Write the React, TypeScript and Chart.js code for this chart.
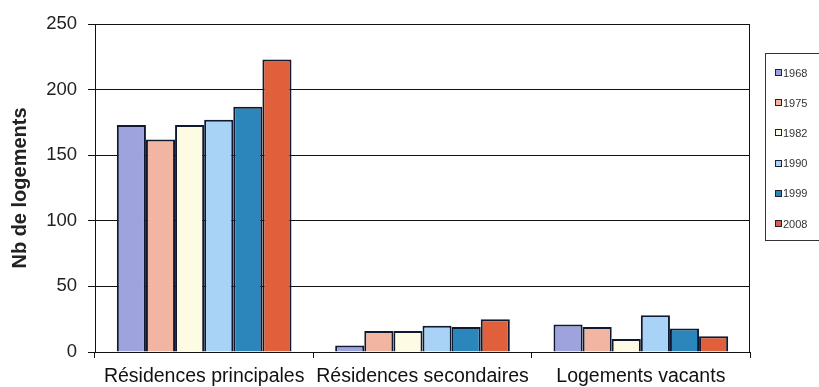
import React, { useEffect, useRef } from "react";
import { Chart, registerables } from "chart.js";

Chart.register(...registerables);

const categories = ["Résidences principales", "Résidences secondaires", "Logements vacants"];
const years = ["1968", "1975", "1982", "1990", "1999", "2008"];
const v1968 = [173, 5, 21];
const v1975 = [162, 16, 19];
const v1982 = [173, 16, 10];
const v1990 = [177, 20, 28];
const v1999 = [187, 19, 18];
const v2008 = [223, 25, 12];
const seriesValues = [v1968, v1975, v1982, v1990, v1999, v2008];
const colors = ["#9ea3de", "#f2b5a1", "#fdfbe4", "#a8d3f6", "#2a86bb", "#e1603c"];
const yTicks = [0, 50, 100, 150, 200, 250];

const borderPlugin = {
  id: "areaBorder",
  afterDraw(chart: any) {
    const { ctx, chartArea } = chart;
    ctx.save();
    ctx.strokeStyle = "#111";
    ctx.lineWidth = 1;
    ctx.beginPath();
    ctx.moveTo(chartArea.left, chartArea.top + 0.5);
    ctx.lineTo(chartArea.right - 0.5, chartArea.top + 0.5);
    ctx.lineTo(chartArea.right - 0.5, chartArea.bottom);
    ctx.stroke();
    ctx.restore();
  },
};

export default function App() {
  const ref = useRef<HTMLCanvasElement>(null);
  useEffect(() => {
    if (!ref.current) return;
    const chart = new Chart(ref.current, {
      type: "bar",
      data: {
        labels: categories,
        datasets: years.map((y, i) => ({
          label: y,
          data: seriesValues[i],
          backgroundColor: colors[i],
          borderColor: "#0f1a30",
          borderWidth: 2,
          barPercentage: 1,
          categoryPercentage: 0.8,
        })),
      },
      options: {
        animation: false,
        responsive: false,
        layout: { padding: { top: 24, right: 69, bottom: 0, left: 0 } },
        plugins: { legend: { display: false }, tooltip: { enabled: false } },
        scales: {
          x: {
            afterFit: (s: any) => { s.height = 35; },
            grid: { display: true, drawOnChartArea: false, drawTicks: true, tickLength: 6, offset: true, color: "#111" },
            border: { display: true, color: "#111", width: 1 },
            ticks: { color: "#111", font: { family: "Liberation Sans, Arial", size: 19.5 }, maxRotation: 0, autoSkip: false, padding: 7 },
          },
          y: {
            min: 0,
            max: 250,
            afterFit: (s: any) => { s.width = 95; },
            afterBuildTicks: (s: any) => { s.ticks = yTicks.map((v) => ({ value: v })); },
            grid: { color: "#111", lineWidth: 1, tickLength: 7, drawTicks: true },
            border: { display: true, color: "#111", width: 1 },
            ticks: { color: "#222", font: { family: "Liberation Sans, Arial", size: 18.5 }, padding: 11 },
            title: {
              display: true,
              text: "Nb de logements",
              color: "#222",
              font: { family: "Liberation Sans, Arial", size: 20, weight: "bold" },
              padding: { top: 8, bottom: 0 },
            },
          },
        },
      },
      plugins: [borderPlugin],
    } as any);
    return () => chart.destroy();
  }, []);

  return (
    <div style={{ position: "fixed", left: 0, top: 0, width: 819, height: 387, background: "#fff" }}>
      <canvas ref={ref} width={819} height={387} style={{ position: "absolute", left: 0, top: 0 }} />
      <div
        style={{
          position: "absolute",
          left: 765,
          top: 53,
          width: 60,
          height: 188,
          border: "1px solid #333",
          boxSizing: "border-box",
          fontFamily: "Liberation Sans, Arial",
          fontSize: 11,
          color: "#333",
        }}
      >
        {years.map((y, i) => (
          <div
            key={y}
            style={{ position: "absolute", left: 9, top: 12 + i * 30.2, display: "flex", alignItems: "center", height: 13 }}
          >
            <span
              style={{
                display: "inline-block",
                width: 5,
                height: 5,
                background: colors[i],
                border: "1.5px solid #1a2233",
                marginRight: 1,
              }}
            />
            <span>{y}</span>
          </div>
        ))}
      </div>
    </div>
  );
}
